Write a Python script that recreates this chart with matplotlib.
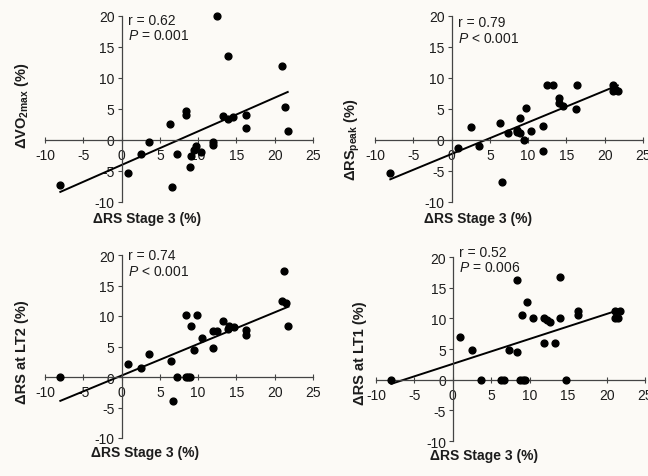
"""Four scatter panels: change in RS at stage 3 vs. other training responses."""
import matplotlib
matplotlib.use("Agg")
import matplotlib.pyplot as plt
import numpy as np

plt.rcParams.update({
    "font.family":        "Liberation Sans",
    "font.size":          10,
    "axes.unicode_minus": False,
    "mathtext.fontset":   "custom",
    "mathtext.rm":        "Liberation Sans",
    "mathtext.it":        "Liberation Sans:italic",
    "mathtext.bf":        "Liberation Sans:bold",
})

W, H = 648, 477
BG = "#fcfaf6"
INK = "#1c1c1c"

# -- Data ---------------------------------------------------------------------

vo2_x = [-8.0, 0.9, 2.5, 3.6, 6.3, 6.6, 7.3, 8.4, 8.4, 8.9, 9.1, 9.5, 9.7,
         10.4, 11.9, 11.9, 12.5, 13.2, 13.9, 13.9, 14.6, 16.3, 16.3, 21.0,
         21.3, 21.7]
vo2_y = [-7.3, -5.4, -2.3, -0.3, 2.6, -7.6, -2.3, 4.6, 4.1, -4.3, -2.6, -1.6,
         -1.0, -1.9, -0.3, -0.8, 20.0, 3.9, 13.6, 3.4, 3.7, 4.1, 1.9, 11.9,
         5.3, 1.5]

peak_x = [-8.0, 0.9, 2.5, 3.6, 6.3, 6.6, 7.4, 8.5, 8.6, 9.0, 9.0, 9.4, 9.7,
          10.4, 12.0, 11.9, 12.5, 13.3, 14.0, 14.0, 14.6, 16.4, 16.3, 21.1,
          21.4, 21.1, 21.7]
peak_y = [-5.4, -1.35, 2.1, -0.9, 2.8, -6.7, 1.1, 1.6, 1.3, 3.6, 1.2, 0.0,
          5.1, 1.5, 2.3, -1.8, 8.9, 8.9, 6.7, 5.9, 5.5, 8.9, 5.0, 8.9, 8.2,
          7.9, 7.9]

lt2_x = [-8.0, 0.9, 2.5, 3.6, 6.4, 6.75, 7.3, 8.4, 8.7, 8.9, 8.4, 9.8, 9.1,
         9.45, 10.45, 11.9, 11.9, 12.5, 13.3, 13.9, 14.0, 14.7, 16.3, 16.3,
         21.2, 21.0, 21.5, 21.8]
lt2_y = [0.0, 2.2, 1.5, 3.8, 2.7, -3.9, 0.0, 0.0, 0.0, 0.0, 10.1, 10.1, 8.3,
         4.35, 6.4, 4.7, 7.6, 7.6, 9.1, 7.9, 8.3, 8.2, 7.7, 6.9, 17.3, 12.4,
         12.1, 8.3]

lt1_x = [-8.0, 0.9, 2.5, 3.6, 6.3, 6.6, 7.3, 8.4, 8.4, 8.8, 9.0, 9.1, 9.4,
         9.7, 10.4, 11.9, 11.9, 12.2, 12.6, 13.3, 14.0, 14.0, 14.7, 16.3,
         16.3, 21.1, 21.1, 21.5, 21.8]
lt1_y = [0.0, 7.0, 4.9, 0.0, 0.0, 0.0, 4.9, 16.3, 4.5, 0.0, 10.6, 0.0, 0.0,
         12.6, 10.0, 10.0, 6.0, 9.8, 9.4, 6.0, 16.7, 10.0, 0.0, 11.2, 10.6,
         11.2, 10.0, 10.0, 11.2]

y_labels = [r"ΔVO$_{\mathbf{2max}}$ (%)", r"ΔRS$_{\mathbf{peak}}$ (%)",
            "ΔRS at LT2 (%)", "ΔRS at LT1 (%)"]
r_texts = ["r = 0.62", "r = 0.79", "r = 0.74", "r = 0.52"]
p_texts = [r"$P$ = 0.001", r"$P$ < 0.001", r"$P$ < 0.001", r"$P$ = 0.006"]
x_label = "ΔRS Stage 3 (%)"

# -- Layout (pixel boxes of each plot area) ------------------------------------

# (left, right, top, bottom) of the -10..25 / -10..20 data box
boxes = [(45, 313, 17, 203), (375, 643, 17, 203),
         (45, 313, 256, 439), (376, 645, 258, 442)]
ylab_pos = [(22, 106), (352, 140), (22, 352), (360, 353)]
xlab_pos = [(147, 219), (478, 219), (145, 453), (484, 456)]
stat_y = [(19.3, 16.9), (19.0, 16.4), (20.0, 17.4), (20.8, 18.3)]

panels = [(vo2_x, vo2_y), (peak_x, peak_y), (lt2_x, lt2_y), (lt1_x, lt1_y)]

fig = plt.figure(figsize=(W / 100, H / 100), dpi=100, facecolor=BG)

for i, (xs, ys) in enumerate(panels):
    l, r, t, b = boxes[i]
    ax = fig.add_axes([l / W, 1 - b / H, (r - l) / W, (b - t) / H])
    ax.set_facecolor("none")
    ax.set_xlim(-10, 25)
    ax.set_ylim(-10, 20)
    ax.set_xticks(np.arange(-10, 26, 5))
    ax.set_yticks(np.arange(-10, 21, 5))

    for s in ("top", "right"):
        ax.spines[s].set_visible(False)
    ax.spines["left"].set_position(("data", 0))
    ax.spines["bottom"].set_position(("data", 0))
    for s in ("left", "bottom"):
        ax.spines[s].set_color("#444444")
        ax.spines[s].set_linewidth(0.9)
    ax.tick_params(axis="x", direction="inout", length=4, width=0.8,
                   color="#444444", labelcolor=INK, pad=4, labelsize=10)
    ax.tick_params(axis="y", direction="out", length=3, width=0.8,
                   color="#444444", labelcolor=INK, pad=2, labelsize=10)

    ax.scatter(xs, ys, s=24, color="black", zorder=3, clip_on=False)

    slope, icpt = np.polyfit(xs, ys, 1)
    lx = np.array([min(xs), max(xs)])
    ax.plot(lx, icpt + slope * lx, color="black", lw=1.4, zorder=2)

    ax.text(0.8, stat_y[i][0], r_texts[i], ha="left", va="center",
            color=INK, fontsize=10)
    ax.text(0.8, stat_y[i][1], p_texts[i], ha="left", va="center",
            color=INK, fontsize=10)

    yx, yy = ylab_pos[i]
    fig.text(yx / W, 1 - yy / H, y_labels[i], rotation=90, ha="center",
             va="center", fontweight="bold", fontsize=10.5, color=INK)
    xx, xy = xlab_pos[i]
    fig.text(xx / W, 1 - xy / H, x_label, ha="center", va="center",
             fontweight="bold", fontsize=10, color=INK)

fig.savefig("out.png", dpi=100, facecolor=BG)
